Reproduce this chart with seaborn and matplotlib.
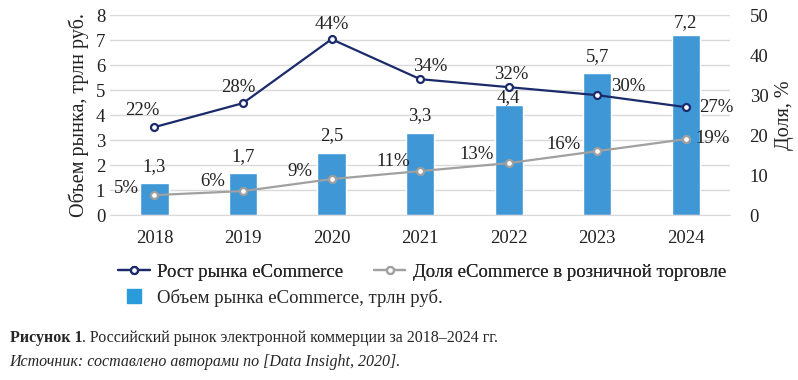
import seaborn as sns
import matplotlib.pyplot as plt
import pandas as pd

# data
years = ['2018', '2019', '2020', '2021', '2022', '2023', '2024']
volume = [1.3, 1.7, 2.5, 3.3, 4.4, 5.7, 7.2]       # трлн руб.
growth = [22, 28, 44, 34, 32, 30, 27]              # %
share = [5, 6, 9, 11, 13, 16, 19]                  # %

volume_labels = ['1,3', '1,7', '2,5', '3,3', '4,4', '5,7', '7,2']
# label offsets in pixels (dx, dy up), text centred
volume_offsets = [16, 16, 17, 17, 8, 16, 13]
growth_offsets = [(-12, 17), (-5, 16), (0, 15), (10, 13), (3, 13), (31, 9), (30, 0)]
share_offsets = [(-28, 7), (-30, 10), (-32, 8), (-27, 10), (-32, 9), (-34, 7), (27, 1)]

df = pd.DataFrame({'year': years, 'volume': volume, 'growth': growth, 'share': share})

sns.set_style('white')
plt.rcParams['font.family'] = ['Liberation Serif', 'DejaVu Serif']

bar_color = '#3F97D6'
navy = '#1B2A6B'
gray = '#A0A0A0'
txt = '#222222'
fs = 13.5

fig = plt.figure(figsize=(7.98, 3.8), dpi=100)
ax = fig.add_axes([0.138, 0.434, 0.777, 0.526])

sns.barplot(x='year', y='volume', data=df, color=bar_color, width=0.32,
            saturation=1, ax=ax, zorder=2)
ax.set_ylim(0, 8)
ax.set_yticks(range(0, 9))
ax.grid(axis='y', color='#D9D9D9', linewidth=1, zorder=0)
ax.set_axisbelow(True)
for i, (v, lab) in enumerate(zip(volume, volume_labels)):
    ax.annotate(lab, (i, v), xytext=(0, volume_offsets[i]), textcoords='offset pixels',
                ha='center', va='center', fontsize=fs, color=txt)

ax2 = ax.twinx()
sns.pointplot(x='year', y='growth', data=df, color=navy, markers='o',
              ax=ax2, linewidth=1.6, markersize=5,
              markerfacecolor='white', markeredgecolor=navy, markeredgewidth=1.6)
sns.pointplot(x='year', y='share', data=df, color=gray, markers='o',
              ax=ax2, linewidth=1.6, markersize=5,
              markerfacecolor='white', markeredgecolor=gray, markeredgewidth=1.6)
ax2.set_ylim(0, 50)
ax2.set_yticks(range(0, 51, 10))
ax2.grid(False)

for i, v in enumerate(growth):
    dx, dy = growth_offsets[i]
    ax2.annotate(f'{v}%', (i, v), xytext=(dx, dy), textcoords='offset pixels',
                 ha='center', va='center', fontsize=fs, color=txt)
for i, v in enumerate(share):
    dx, dy = share_offsets[i]
    ax2.annotate(f'{v}%', (i, v), xytext=(dx, dy), textcoords='offset pixels',
                 ha='center', va='center', fontsize=fs, color=txt)

ax.set_xlim(-0.5, 6.5)
ax.set_xlabel('')
ax.set_ylabel('Объем рынка, трлн руб.', fontsize=14.5, labelpad=5, color=txt)
ax2.set_xlabel('')
ax2.set_ylabel('Доля, %', fontsize=14.5, labelpad=5, color=txt)

for a in (ax, ax2):
    for s in a.spines.values():
        s.set_visible(False)
    a.tick_params(length=0, labelsize=fs, colors=txt)
ax.spines['bottom'].set_visible(True)
ax.spines['bottom'].set_color('#D9D9D9')
ax.tick_params(axis='x', pad=11)
ax2.tick_params(axis='y', pad=14)

# legend: two line entries on the first row, bar entry on the second
h_growth = plt.Line2D([], [], color=navy, marker='o', markersize=5, linewidth=1.6,
                      markerfacecolor='white', markeredgewidth=1.6)
h_share = plt.Line2D([], [], color=gray, marker='o', markersize=5, linewidth=1.6,
                     markerfacecolor='white', markeredgewidth=1.6)
h_bar = plt.Line2D([], [], color='#2A9BDB', marker='s', markersize=10, linestyle='none')
leg_kw = dict(loc='center left', frameon=False, fontsize=13.5, handlelength=1.7,
              handletextpad=0.4, borderpad=0, borderaxespad=0)
leg1 = fig.legend([h_growth, h_share],
                  ['Рост рынка eCommerce', 'Доля eCommerce в розничной торговле'],
                  ncol=2, columnspacing=1.6, bbox_to_anchor=(0.148, 0.284), **leg_kw)
fig.add_artist(leg1)
fig.legend([h_bar], ['Объем рынка eCommerce, трлн руб.'],
           bbox_to_anchor=(0.148, 0.216), **leg_kw)

# caption
cap_fs = 11.5
t1 = fig.text(0.012, 0.11, 'Рисунок 1', fontsize=cap_fs, fontweight='bold', va='center')
fig.canvas.draw()
bb = t1.get_window_extent().transformed(fig.transFigure.inverted())
fig.text(bb.x1, 0.11, '. Российский рынок электронной коммерции за 2018–2024 гг.',
         fontsize=cap_fs, va='center')
fig.text(0.012, 0.047, 'Источник: составлено авторами по [Data Insight, 2020].',
         fontsize=cap_fs, style='italic', va='center')

plt.savefig('out.png', dpi=100)
plt.close()
